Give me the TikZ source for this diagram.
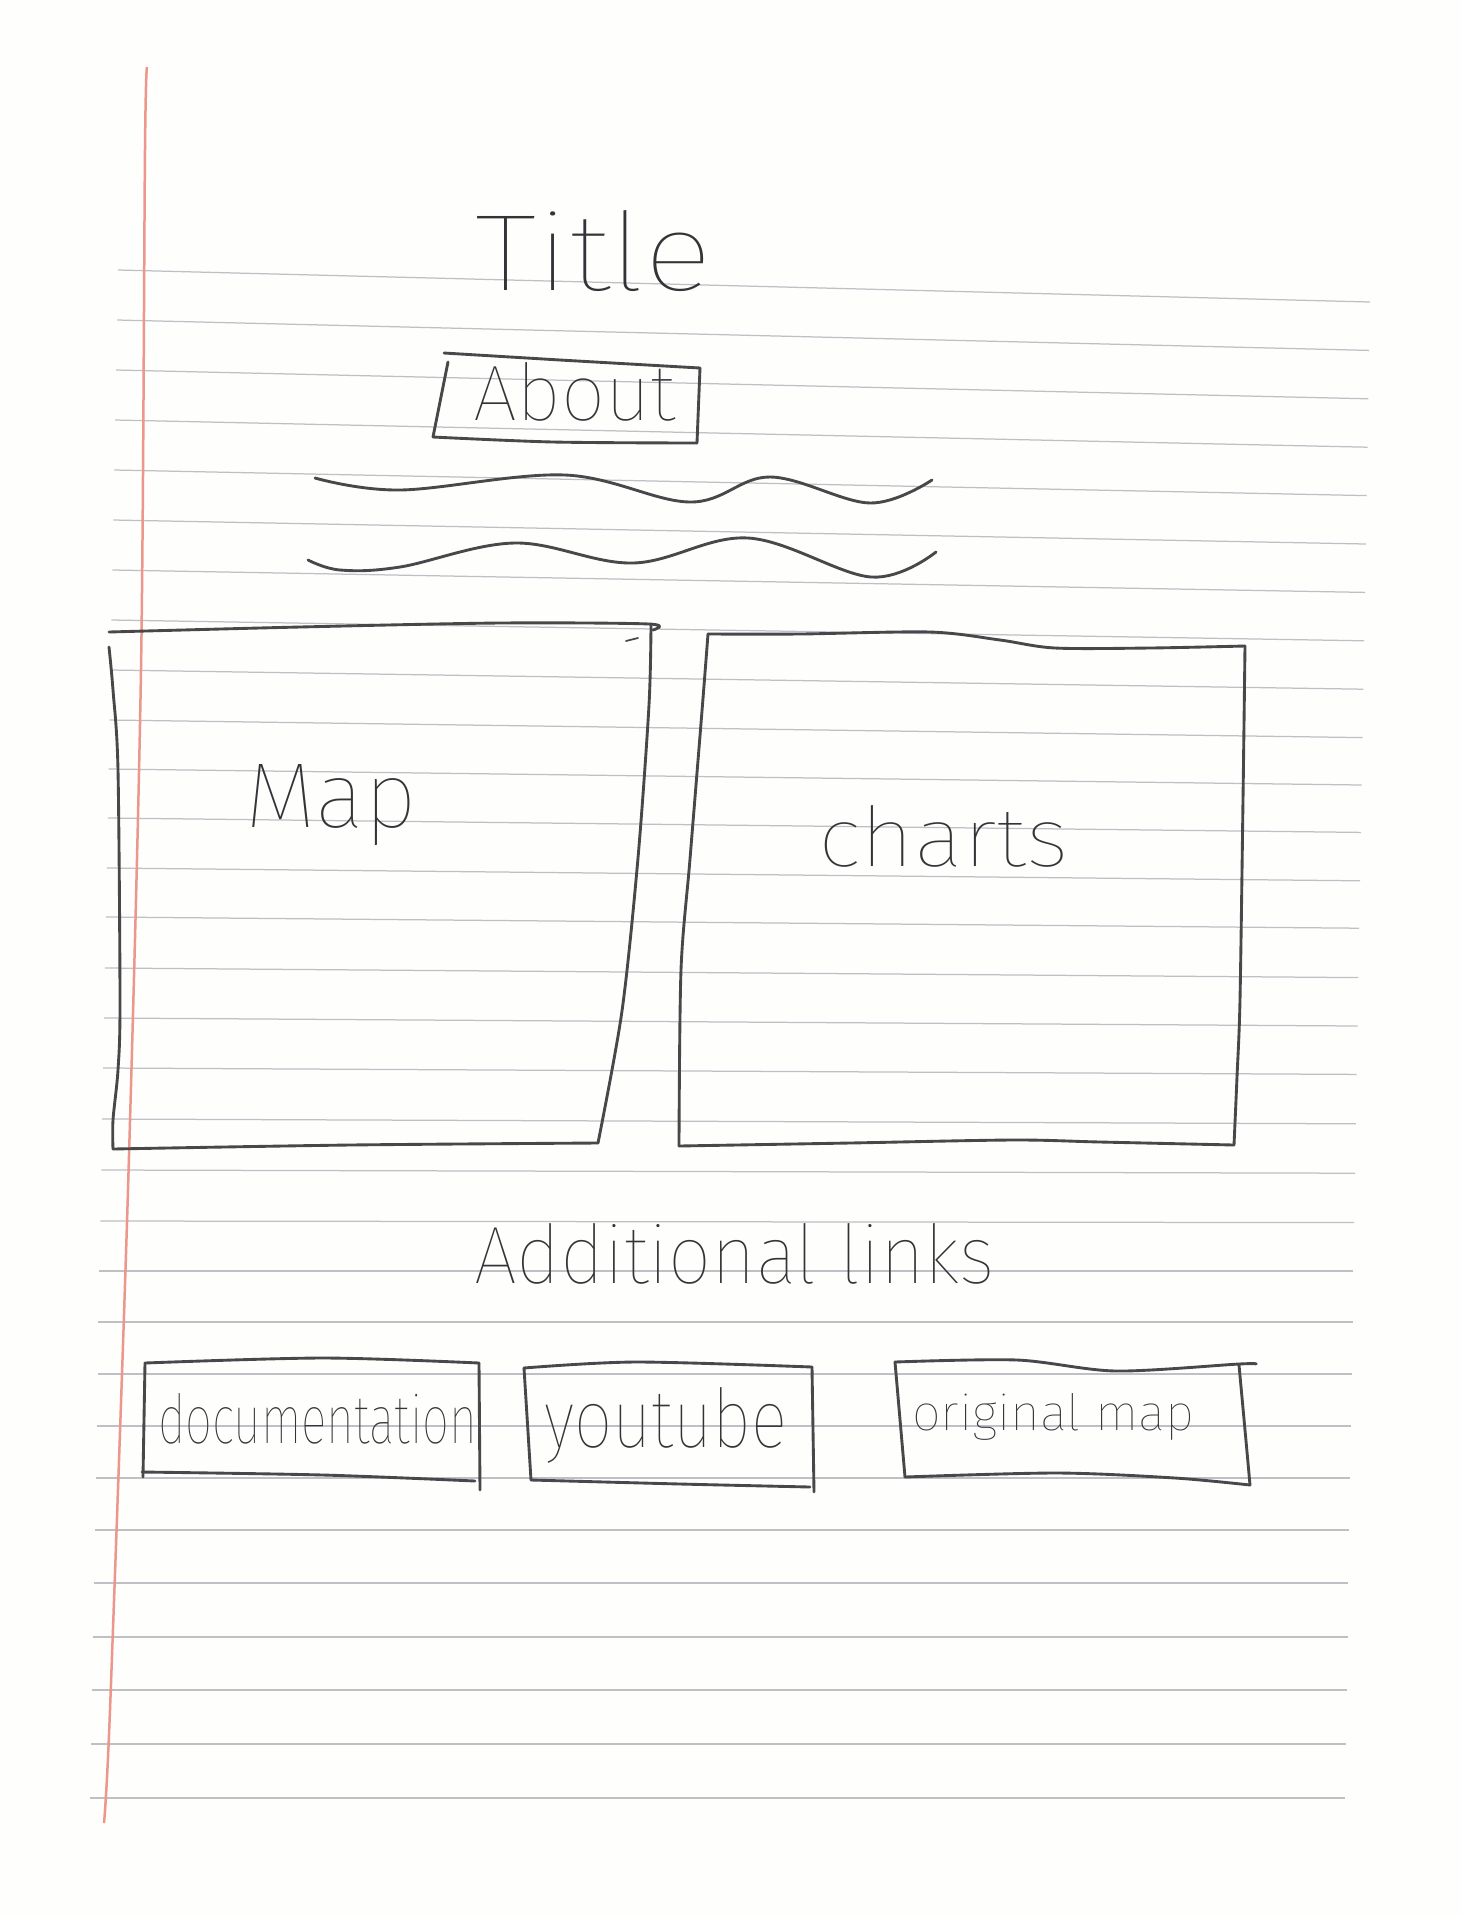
\documentclass[tikz,border=0pt]{standalone}
\usepackage{fontspec}
\usepackage{graphicx}
% thin sans for the pen lettering: take the lightest weight that is at hand
\newcommand\pickhand[2]{\IfFontExistsTF{#1}{\newfontfamily\hand{#1}}{#2}}
\pickhand{Fira Sans Thin}{%
 \pickhand{FiraSans-Thin.otf}{%
  \pickhand{Lato Thin}{%
   \pickhand{Poppins Thin}{%
    \pickhand{Fira Sans ExtraLight}{%
     \pickhand{FiraSans-ExtraLight.otf}{%
      \pickhand{Lato Light}{%
       \pickhand{Fira Sans Light}{%
        \newfontfamily\hand{Fira Sans}}}}}}}}}
\definecolor{ink}{RGB}{72,72,74}
\definecolor{inktext}{RGB}{52,52,56}
\definecolor{rulec}{RGB}{190,192,198}
\definecolor{marginc}{RGB}{236,150,140}
\definecolor{paper}{RGB}{254,254,252}
% one drawing unit = one pixel of the sheet
\newlength\pxu
\setlength\pxu{0.4pt}
% set a word into a box of given width and height (in sheet pixels)
\newcommand\fitto[3]{\resizebox{#1\pxu}{#2\pxu}{#3}}
\begin{document}
\begin{tikzpicture}[x=0.4pt,y=-0.4pt,
  pen/.style={draw=ink,line width=1.15pt,line cap=round,line join=round},
  rule/.style={draw=rulec,line width=0.5pt},
  margin/.style={draw=marginc,line width=1pt},
  handtext/.style={inner sep=0pt,outer sep=0pt,text=inktext,font=\hand\fontsize{40}{48}\selectfont,anchor=base west}]
\useasboundingbox (0,0) rectangle (1462,1915);
\fill[paper] (0,0) rectangle (1462,1915);

% ruled lines of the sheet
\foreach \yl [count=\k from 0] in {270,320,370,420,470,520,570,620,670,720,769,818,868,917,968,1018,1068,1119,1170,1221,1271,1322,1374,1426,1478,1530,1583,1637,1690,1744,1798} {
  \pgfmathsetmacro\dr{max(0,32-1.6*\k)}
  \pgfmathsetmacro\xl{118-0.93*\k}
  \pgfmathsetmacro\xr{1370-0.83*\k}
  \draw[rule] (\xl,\yl) -- (\xr,\yl+\dr);
}
% red margin line
\draw[margin] plot[smooth] coordinates {(147,67) (145,150) (141,670) (128,1190) (110,1710) (104,1823)};

% heading
\node[handtext] (title) at (475,290) {\fitto{237}{80}{Title}};

% about button
\draw[pen] (444,353) -- (560,360) -- (700,368);
\draw[pen] (448,362) -- (433,437);
\draw[pen] plot[smooth] coordinates {(433,437) (553,442) (697,443)};
\draw[pen] (700,368) -- (697,443);
\node[handtext] (about) at (473,420) {\fitto{203}{58}{About}};

% placeholder text lines
\draw[pen] plot[smooth,tension=0.6] coordinates {(315,478) (400,490) (565,475) (690,502) (770,477) (870,503) (932,480)};
\draw[pen] plot[smooth,tension=0.6] coordinates {(308,560) (340,570) (400,567) (515,543) (633,563) (748,538) (871,577) (936,552)};

% map panel
\draw[pen] plot[smooth] coordinates {(109,632) (300,627) (500,623) (649,624) (653,630)};
\draw[pen] plot[smooth] coordinates {(651,624) (649,705) (638,858) (622,1011) (598,1143)};
\draw[pen] plot[smooth] coordinates {(598,1143) (350,1145) (113,1149)};
\draw[pen] plot[smooth] coordinates {(113,1149) (113,1120) (118,1070) (120,1003) (118,770) (113,690) (109,647)};
\draw[pen,line width=0.7pt] (626,641) -- (638,638);
\node[handtext] (map) at (245,827) {\fitto{172}{63}{Map}};

% charts panel
\draw[pen] plot[smooth] coordinates {(708,634) (800,634) (930,632) (1000,640) (1055,648) (1150,648) (1245,646)};
\draw[pen] plot[smooth] coordinates {(1245,646) (1243,800) (1240,1000) (1237,1077) (1234,1145)};
\draw[pen] plot[smooth] coordinates {(1234,1145) (1100,1142) (1013,1140) (850,1143) (679,1146)};
\draw[pen] plot[smooth] coordinates {(679,1146) (681,970) (690,859) (702,711) (708,634)};
\node[handtext] (charts) at (818,866) {\fitto{251}{61}{charts}};

% links section
\node[handtext] (links) at (474,1283) {\fitto{521}{60}{Additional links}};

% documentation button
\draw[pen] plot[smooth] coordinates {(145,1363) (323,1358) (479,1363)};
\draw[pen] (479,1363) -- (480,1490);
\draw[pen] plot[smooth] coordinates {(142,1472) (323,1475) (475,1481)};
\draw[pen] (145,1363) -- (143,1477);
\node[handtext] (doc) at (158,1443) {\fitto{319}{50}{documentation}};

% youtube button
\draw[pen] plot[smooth] coordinates {(524,1368) (636,1362) (812,1367)};
\draw[pen] (812,1367) -- (814,1492);
\draw[pen] plot[smooth] coordinates {(531,1480) (680,1484) (810,1487)};
\draw[pen] (524,1368) -- (531,1480);
\node[handtext] (yt) at (544,1447) {\fitto{243}{60}{youtube}};

% original map button
\draw[pen] plot[smooth] coordinates {(895,1362) (1017,1360) (1116,1371) (1239,1364) (1256,1364)};
\draw[pen] plot[smooth] coordinates {(1239,1365) (1245,1430) (1250,1485)};
\draw[pen] plot[smooth] coordinates {(1250,1485) (1175,1478) (1057,1473) (905,1477)};
\draw[pen] (905,1477) -- (895,1362);
\node[handtext] (orig) at (912,1430) {\fitto{283}{37}{original map}};
\end{tikzpicture}
\end{document}
